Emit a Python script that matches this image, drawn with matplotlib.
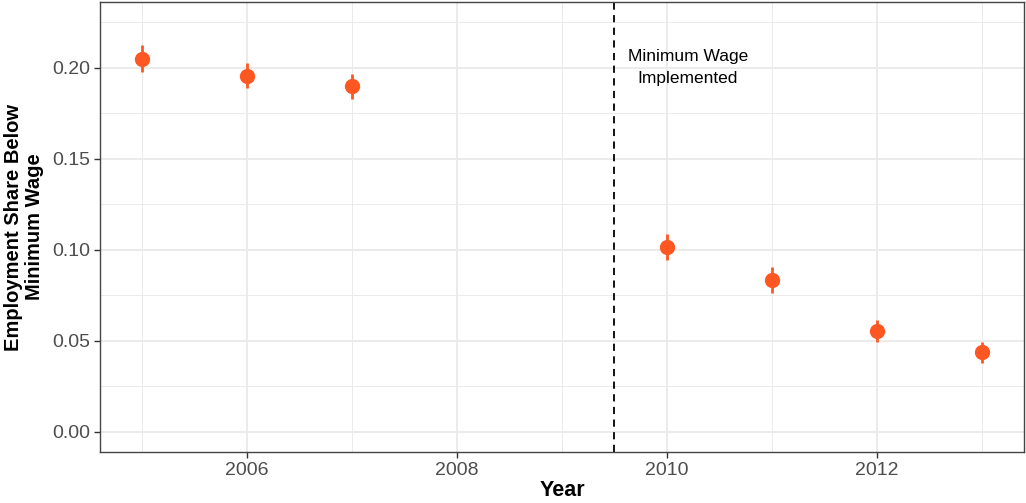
import numpy as np
import matplotlib.pyplot as plt
from matplotlib.ticker import MultipleLocator

plt.rcParams['font.family'] = ['Liberation Sans', 'DejaVu Sans']

# Data
years = np.array([2005, 2006, 2007, 2010, 2011, 2012, 2013])
share = np.array([0.2049, 0.1956, 0.1896, 0.1013, 0.0833, 0.0553, 0.0436])
err = np.array([0.0075, 0.0068, 0.0068, 0.0072, 0.0070, 0.0062, 0.0058])

policy_year = 2009.5
point_color = '#FF5722'
grid_color = '#EBEBEB'

fig = plt.figure(figsize=(10.26, 5.03), dpi=100)
ax = fig.add_axes([0.0975, 0.1014, 0.9005, 0.8946])

ax.errorbar(years, share, yerr=err, fmt='o', color=point_color, markersize=10,
            elinewidth=2, capsize=0, zorder=3)

ax.axvline(policy_year, color='black', linestyle=(0, (4, 3)), linewidth=1.3, zorder=2)
ax.text(2010.2, 0.2, 'Minimum Wage\nImplemented', ha='center', va='center',
        fontsize=12.5, linespacing=1.55, color='black')

ax.set_xlim(2004.6, 2013.4)
ax.set_ylim(-0.0112, 0.236)
ax.xaxis.set_major_locator(MultipleLocator(2))
ax.xaxis.set_minor_locator(MultipleLocator(1))
ax.yaxis.set_major_locator(MultipleLocator(0.05))
ax.yaxis.set_minor_locator(MultipleLocator(0.025))
ax.yaxis.set_major_formatter(plt.FuncFormatter(lambda v, p: f'{v:.2f}'))

ax.grid(which='major', color=grid_color, linewidth=1.4, zorder=0)
ax.grid(which='minor', color=grid_color, linewidth=0.7, zorder=0)
ax.set_axisbelow(True)

ax.tick_params(which='major', length=4, width=1, color='#333333', labelsize=14,
               labelcolor='#4D4D4D', pad=3)
ax.tick_params(which='minor', length=0)

for spine in ax.spines.values():
    spine.set_edgecolor('#444444')
    spine.set_linewidth(1.0)

ax.set_xlabel('Year', fontsize=15.5, fontweight='bold', labelpad=1)
ax.set_ylabel('Employment Share Below\nMinimum Wage', fontsize=14.5, fontweight='bold',
              labelpad=6, linespacing=1.15)

fig.savefig('out.png', dpi=100)
